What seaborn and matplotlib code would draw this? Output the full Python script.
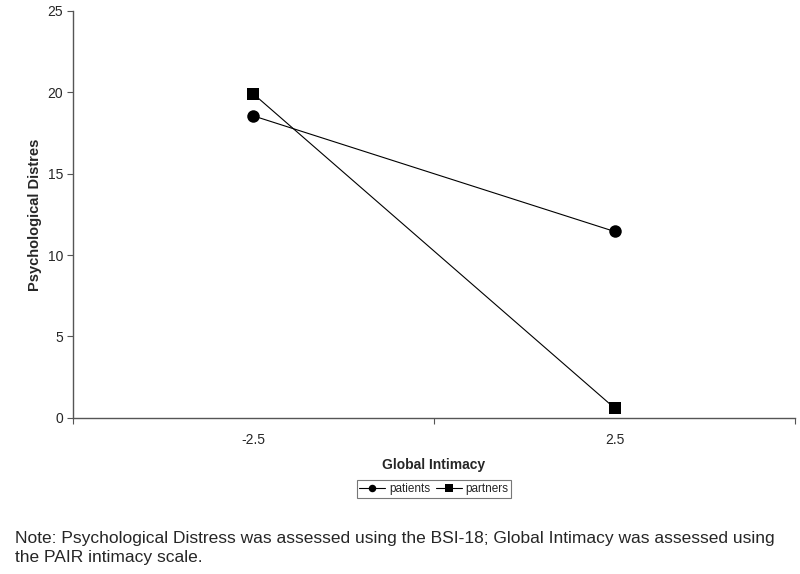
import pandas as pd
import matplotlib
matplotlib.use('Agg')
import matplotlib.pyplot as plt
import seaborn as sns

# Data
intimacy = ['-2.5', '2.5']
patients = [18.55, 11.45]
partners = [19.9, 0.6]

df = pd.DataFrame({
    'Global Intimacy': intimacy * 2,
    'Psychological Distres': patients + partners,
    'group': ['patients'] * 2 + ['partners'] * 2,
})

sns.set_style('white')
plt.rcParams['font.family'] = ['Liberation Sans', 'DejaVu Sans']

fig = plt.figure(figsize=(8, 5.74), dpi=100)
ax = fig.add_axes([0.091, 0.272, 0.903, 0.709])

sns.lineplot(data=df, x='Global Intimacy', y='Psychological Distres',
             hue='group', style='group',
             palette={'patients': 'black', 'partners': 'black'},
             markers={'patients': 'o', 'partners': 's'}, dashes=False,
             markersize=9, markeredgewidth=0, linewidth=0.8, ax=ax)

ax.set_xlim(-0.5, 1.5)
ax.set_ylim(0, 25)
ax.set_yticks(range(0, 26, 5))
ax.set_xticks([0, 1])
ax.set_xticklabels(intimacy)
ax.set_xticks([-0.5, 0.5, 1.5], minor=True)
ax.tick_params(axis='x', which='major', length=0, labelsize=10, pad=11)
ax.tick_params(axis='x', which='minor', length=4, width=0.8, color='#555555', direction='out', bottom=True)
ax.tick_params(axis='y', length=4, width=0.8, color='#555555', direction='out', left=True, labelsize=10, pad=3)

for side in ['top', 'right']:
    ax.spines[side].set_visible(False)
for side in ['left', 'bottom']:
    ax.spines[side].set_color('#555555')
    ax.spines[side].set_linewidth(1.0)

ax.set_xlabel('Global Intimacy', fontsize=10, fontweight='bold', labelpad=8)
ax.set_ylabel('Psychological Distres', fontsize=10.5, fontweight='bold', labelpad=4)

leg = ax.legend(loc='center', bbox_to_anchor=(0.5, -0.175), ncol=2, frameon=True,
                fancybox=False, fontsize=8.5, handlelength=2.2, handletextpad=0.3,
                columnspacing=0.5, borderpad=0.25, markerscale=0.6)
leg.get_frame().set_edgecolor('#555555')
leg.get_frame().set_linewidth(0.8)

fig.text(0.019, 0.016, 'Note: Psychological Distress was assessed using the BSI-18; Global Intimacy was assessed using\nthe PAIR intimacy scale.',
         fontsize=12.5, ha='left', va='bottom', linespacing=1.3)

fig.savefig('out.png', dpi=100, facecolor='white')
